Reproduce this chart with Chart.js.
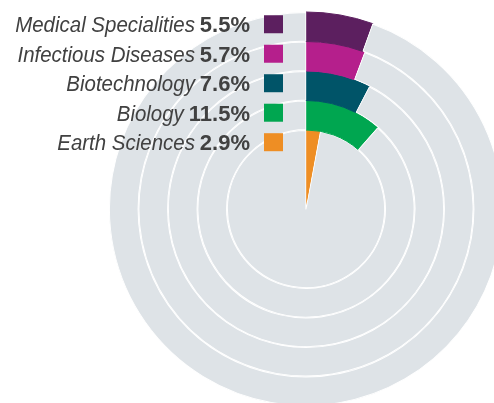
<!DOCTYPE html>
<html>
<head>
<meta charset="utf-8">
<script src="https://cdn.jsdelivr.net/npm/chart.js@4"></script>
<style>
  html, body { margin: 0; padding: 0; background: #fff; overflow: hidden; width: 494px; height: 403px; }
  #c { position: absolute; left: 0; top: 0; }
</style>
</head>
<body>
<canvas id="c" width="612" height="418"></canvas>
<script>
const categories = ['Medical Specialities', 'Infectious Diseases', 'Biotechnology', 'Biology', 'Earth Sciences'];
const values = [5.5, 5.7, 7.6, 11.5, 2.9];
const valueLabels = ['5.5%', '5.7%', '7.6%', '11.5%', '2.9%'];
const colors = ['#5c1f5f', '#b51f8c', '#005468', '#00a650', '#ee8e24'];
const trackColor = '#dee3e7';
const TOTAL = 100;

const datasets = categories.map((name, i) => ({
  label: name,
  data: [values[i], TOTAL - values[i]],
  backgroundColor: [colors[i], trackColor],
  borderColor: [colors[i], '#ffffff'],
  borderWidth: [1, 0.6],
  borderAlign: ['center', 'inner'],
  weight: i === categories.length - 1 ? 2.68 : 1
}));

const labelPlugin = {
  id: 'ringLabels',
  afterDraw(chart) {
    const ctx = chart.ctx;
    const first = chart.getDatasetMeta(0).data[0];
    const ringW = first.outerRadius - first.innerRadius;
    chart.data.datasets.forEach((ds, i) => {
      const arc = chart.getDatasetMeta(i).data[0];
      const mid = arc.innerRadius > 0.5 ? (arc.innerRadius + arc.outerRadius) / 2 : arc.outerRadius - ringW / 2;
      const cy = arc.y - mid - 2.5;
      const cx = arc.x;
      ctx.save();
      ctx.fillStyle = colors[i];
      ctx.fillRect(cx - 42, cy - 9, 19, 18);
      const base = cy + 8;
      const right = cx - 56;
      ctx.fillStyle = '#414141';
      ctx.textBaseline = 'alphabetic';
      ctx.textAlign = 'right';
      ctx.font = 'bold 22px "Liberation Sans", Arial, sans-serif';
      ctx.fillText(valueLabels[i], right, base);
      const vw = ctx.measureText(valueLabels[i]).width;
      ctx.font = 'italic 22px "Liberation Sans", Arial, sans-serif';
      const tx = right - vw - 5;
      ctx.translate(tx, base);
      ctx.scale(0.93, 1);
      ctx.fillText(categories[i], 0, 0);
      ctx.restore();
    });
  }
};

new Chart(document.getElementById('c'), {
  type: 'doughnut',
  data: { labels: ['value', 'rest'], datasets },
  options: {
    responsive: false,
    animation: false,
    cutout: 0,
    rotation: 0,
    circumference: 360,
    layout: { padding: 11.5 },
    plugins: { legend: { display: false }, tooltip: { enabled: false } },
    events: []
  },
  plugins: [labelPlugin]
});
</script>
</body>
</html>
